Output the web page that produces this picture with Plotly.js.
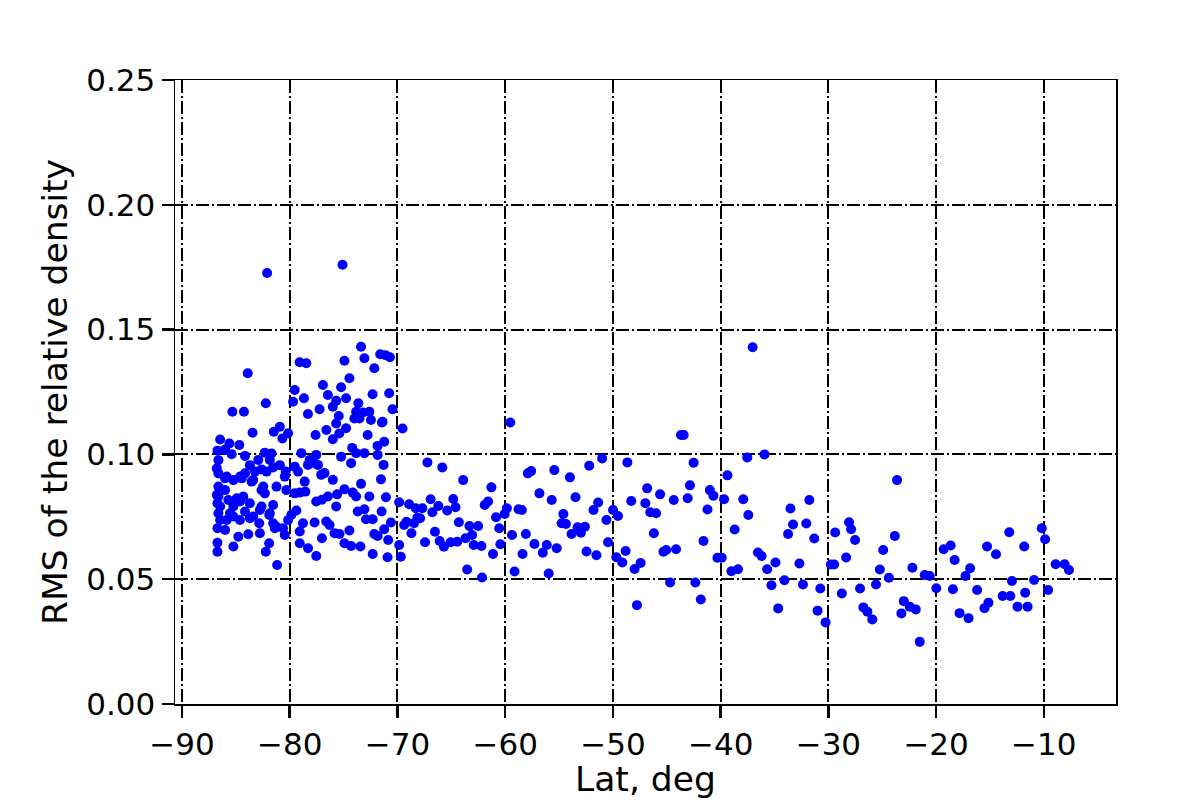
<!DOCTYPE html>
<html>
<head>
<meta charset="utf-8">
<script src="https://cdn.plot.ly/plotly-3.0.1.min.js"></script>
<style>html,body{margin:0;padding:0;background:#fff;}#chart{width:1200px;height:800px;}</style>
</head>
<body>
<div id="chart"></div>
<script>
// Region A: latitudes south of -80 deg
const latA = [-82.1,-83.9,-82.22,-85.32,-84.25,-80.92,-81.48,-80.15,-80.68,-83.45,-86.46,-85.6,-84.68,-86.71,-86.0,-85.39,-82.31,-81.69,-84.15,-82.92,-81.85,-81.54,-80.92,-83.7,-82.62,-86.62,-86.77,
  -86.62,-86.62,-86.77,-86.71,-86.62,-86.46,-86.71,-86.0,-86.71,-85.23,-84.77,-83.85,-82.77,-82.22,-81.91,-81.17,-85.23,-85.23,-84.46,-84.15,-83.54,-82.62,-82.31,-81.23,-80.31,-85.7,-84.62,-83.7,-82.62,-81.54,-81.85,-82.77,-84.15,-85.54,-84.62,-83.7,-82.83,-81.54,-81.38,-80.62,-80.46,-83.23,-82.15,-80.37,-85.85,-84.6,
  -84.92,-86.0,-82.46,-83.39,-86.0,-80.46,-86.46,-80.15,-81.23,-81.9,-83.39,-85.23,-85.85,-86.71,-84.31,-86.62];
const rmsA = [0.1727,0.1325,0.1205,0.1171,0.1171,0.1111,0.1091,0.1085,0.1064,0.1087,0.1060,0.1044,0.1038,0.1015,0.1020,0.1001,0.1007,0.1004,0.0994,0.0978,0.0978,0.0948,0.0957,0.0957,0.0940,0.0977,0.0944,
  0.0924,0.0871,0.0837,0.0804,0.0764,0.0737,0.0704,0.0697,0.0610,0.0631,0.0670,0.0680,0.0684,0.0610,0.0644,0.0557,0.0897,0.0791,0.0904,0.0924,0.0891,0.0857,0.0844,0.0871,0.0857,0.0817,0.0811,0.0804,0.0791,0.0797,0.0764,0.0777,0.0771,0.0764,0.0737,0.0744,0.0724,0.0724,0.0704,0.0704,0.0677,0.0931,0.0931,0.0931,0.0911,0.0911,
  0.0824,0.0857,0.0871,0.0897,0.0904,0.0911,0.0791,0.0737,0.0710,0.0757,0.0751,0.0751,0.0737,0.0646,0.0831,0.0831];

// Region B: -80 to -70 deg
const latB = [-75.1,-73.38,-71.6,-71.1,-70.7,-79.08,-78.46,-74.92,-73.07,-72.15,-74.46,-76.92,-75.23,-79.54,-79.69,-76.46,-74.77,-78.68,-72.31,-70.77,-75.69,-76.0,-77.23,-78.31,-73.63,-70.46,-71.38,-75.45,-75.69,-76.6,-77.6,-76.0,-74.77,-72.77,-71.23,-71.85,-74.2,-73.84,-72.61,-73.53,-72.46,-74.0,-71.44,-73.2,-75.4,
  -78.92,-77.54,-75.23,-73.84,-73.07,-71.84,-78.15,-77.69,-78.31,-79.54,-79.23,-77.38,-76.77,-77.08,-76.0,-74.3,-71.29,-71.53,-78.61,-73.38,-74.92,-74.15,-73.84,-72.61,-76.46,-77.01,-77.54,-78.55,-79.07,-79.54,-75.69,-73.69,-73.07,-71.47,-79.38,-79.84,-78.77,-77.69,-76.61,-76.3,-72.92,-72.3,-70.61,-71.23,-75.84,-75.38,-74.46,-72.15,-71.84,-70.86,-79.07,-77.01,-79.07,-78.3,-74.92,-74.3,-73.44,-72.3,-70.92,-77.54,-71.07,-75.6];
const rmsB = [0.1760,0.1431,0.1401,0.1397,0.1389,0.1369,0.1365,0.1375,0.1385,0.1345,0.1305,0.1278,0.1269,0.1258,0.1211,0.1238,0.1225,0.1225,0.1241,0.1245,0.1215,0.1191,0.1181,0.1162,0.1205,0.1181,0.1131,0.1154,0.1124,0.1098,0.1078,0.1061,0.1105,0.1078,0.1051,0.1034,0.1026,0.1171,0.1171,0.1144,0.1138,0.1144,0.1128,0.1168,0.1084,
  0.1005,0.0998,0.0991,0.1005,0.1005,0.0998,0.0978,0.0965,0.0958,0.0951,0.0931,0.0958,0.0925,0.0918,0.0898,0.0965,0.0958,0.0900,0.0891,0.0882,0.0860,0.0847,0.0831,0.0831,0.0831,0.0818,0.0811,0.0851,0.0847,0.0844,0.0791,0.0771,0.0780,0.0771,0.0775,0.0758,0.0724,0.0727,0.0731,0.0717,0.0740,0.0740,0.0727,0.0700,0.0684,0.0681,0.0695,0.0681,0.0673,0.0657,0.0691,0.0664,0.0644,0.0624,0.0644,0.0633,0.0631,0.0601,0.0588,0.0593,0.0828,0.0840];

// Region C: -70 to -42 deg
const latC = [-69.53,-59.53,-43.68,-43.43,-67.22,-65.84,-63.9,-61.28,-57.9,-57.59,-55.44,-53.99,-52.2,-51.0,-48.66,-42.51,-46.82,-45.62,-42.85,-43.06,-44.35,-48.3,-46.99,-46.54,-45.99,-46.2,-69.84,-68.92,-68.3,-67.69,-66.92,-66.21,-66.76,-68.15,-69.16,-69.38,-68.46,-67.9,-68.7,-69.69,-69.84,-67.44,-66.52,-66.08,-65.69,-65.07,-64.45,-63.68,-63.07,-64.82,-64.61,-65.38,-64.3,-63.32,-62.51,-62.92,-62.21,-63.53,-62.15,-61.9,-61.59,-60.85,-60.55,-61.13,-60.45,-59.84,-60.05,-59.37,-59.13,-58.39,-58.08,-58.76,-58.45,-57.28,-56.82,-56.51,-56.14,-55.96,-55.68,-55.22,-54.6,-54.76,-54.36,-53.84,-53.47,-53.28,-52.97,-52.6,-52.45,-51.8,-51.37,-51.53,-50.6,-50.45,-49.99,-49.53,-49.68,-49.13,-48.82,-47.99,-47.43,-47.77,-45.31,-45.06,-44.14,-44.69,-42.35];
const rmsC = [0.1104,0.1128,0.1078,0.1078,0.0968,0.0948,0.0897,0.0868,0.0924,0.0933,0.0937,0.0908,0.0955,0.0984,0.0968,0.0967,0.0864,0.0840,0.0876,0.0824,0.0817,0.0813,0.0804,0.0768,0.0764,0.0684,0.0808,0.0800,0.0784,0.0784,0.0820,0.0793,0.0768,0.0746,0.0730,0.0717,0.0724,0.0744,0.0684,0.0590,0.0637,0.0648,0.0690,0.0653,0.0630,0.0648,0.0650,0.0664,0.0677,0.0821,0.0788,0.0775,0.0728,0.0713,0.0713,0.0637,0.0633,0.0539,0.0507,0.0797,0.0811,0.0748,0.0704,0.0601,0.0640,0.0784,0.0761,0.0677,0.0531,0.0601,0.0681,0.0780,0.0777,0.0641,0.0844,0.0606,0.0637,0.0523,0.0817,0.0624,0.0761,0.0724,0.0721,0.0681,0.0828,0.0708,0.0686,0.0710,0.0611,0.0777,0.0807,0.0596,0.0737,0.0648,0.0777,0.0753,0.0588,0.0567,0.0613,0.0541,0.0565,0.0396,0.0610,0.0617,0.0620,0.0487,0.0487];

// Region D: -42 to -21 deg
const latD = [-37.03,-37.53,-35.93,-39.37,-41.0,-40.67,-39.68,-37.9,-41.22,-37.43,-38.7,-41.59,-40.3,-39.9,-39.0,-38.39,-36.54,-36.2,-35.68,-34.91,-41.84,-35.28,-34.08,-34.66,-32.69,-33.52,-31.77,-33.28,-32.05,-33.74,-31.31,-32.36,-30.75,-31.0,-30.26,-29.77,-29.46,-29.37,-28.08,-27.89,-27.52,-28.35,-28.75,-27.06,-26.75,-26.38,-25.92,-25.58,-25.22,-24.91,-24.38,-23.83,-23.62,-23.0,-22.45,-21.89,-23.22,-22.2,-21.06];
const rmsD = [0.1429,0.0988,0.1000,0.0916,0.0857,0.0834,0.0820,0.0820,0.0779,0.0757,0.0699,0.0653,0.0586,0.0586,0.0532,0.0540,0.0607,0.0593,0.0540,0.0567,0.0419,0.0476,0.0496,0.0383,0.0563,0.0783,0.0817,0.0719,0.0723,0.0681,0.0663,0.0479,0.0463,0.0374,0.0327,0.0559,0.0559,0.0687,0.0728,0.0700,0.0657,0.0587,0.0443,0.0463,0.0387,0.0370,0.0339,0.0479,0.0539,0.0617,0.0506,0.0673,0.0897,0.0412,0.0390,0.0379,0.0363,0.0546,0.0517];

// Region E: north of -21 deg
const latE = [-20.59,-19.98,-19.3,-18.65,-18.28,-16.84,-17.27,-18.44,-16.19,-17.82,-16.99,-15.51,-15.14,-15.27,-14.44,-13.21,-13.82,-13.11,-12.96,-11.82,-11.73,-12.44,-11.51,-10.9,-10.19,-9.88,-9.6,-8.9,-8.07,-7.67,-21.52];
const rmsE = [0.0513,0.0464,0.0620,0.0635,0.0577,0.0544,0.0513,0.0460,0.0457,0.0364,0.0344,0.0384,0.0406,0.0631,0.0600,0.0688,0.0433,0.0433,0.0493,0.0631,0.0446,0.0390,0.0390,0.0497,0.0704,0.0660,0.0457,0.0560,0.0560,0.0537,0.0249];

const xTicks = [-90, -80, -70, -60, -50, -40, -30, -20, -10];
const yTicks = [0, 0.05, 0.10, 0.15, 0.20, 0.25];
const xTitle = 'Lat, deg';
const yTitle = 'RMS of the relative density';

const lat = [].concat(latA, latB, latC, latD, latE);
const rms = [].concat(rmsA, rmsB, rmsC, rmsD, rmsE);

const trace = {
  type: 'scatter', mode: 'markers', x: lat, y: rms,
  marker: {color: '#0000ff', size: 10, line: {width: 0}},
  hoverinfo: 'x+y'
};

const gridDash = '13px,3px,2px,3px';
const layout = {
  width: 1200, height: 800,
  margin: {l: 175, r: 84, t: 80, b: 96},
  paper_bgcolor: '#ffffff', plot_bgcolor: '#ffffff',
  showlegend: false,
  font: {family: 'DejaVu Sans, sans-serif', color: '#000000'},
  xaxis: {
    range: [-90.65, -3.3], tickmode: 'array', tickvals: xTicks,
    ticks: 'outside', ticklen: 12, tickwidth: 2.5, tickcolor: '#000000',
    showline: true, linecolor: '#000000', linewidth: 1.5, mirror: true,
    showgrid: true, gridcolor: '#000000', gridwidth: 2, griddash: gridDash,
    zeroline: false, automargin: false,
    tickfont: {size: 31, family: 'DejaVu Sans'}
  },
  yaxis: {
    range: [0, 0.25], tickmode: 'array', tickvals: yTicks, tickformat: '.2f',
    ticks: 'outside', ticklen: 12, tickwidth: 2.5, tickcolor: '#000000',
    showline: true, linecolor: '#000000', linewidth: 1.5, mirror: true,
    showgrid: true, gridcolor: '#000000', gridwidth: 2, griddash: gridDash,
    zeroline: false, automargin: false,
    tickfont: {size: 31, family: 'DejaVu Sans'},
    title: {text: yTitle, font: {size: 34.5, family: 'DejaVu Sans'}, standoff: 8}
  },
  annotations: [{
    text: xTitle, xref: 'paper', yref: 'paper', x: 0.5, y: -0.1202,
    xanchor: 'center', yanchor: 'middle', showarrow: false, borderpad: 0,
    font: {size: 34.5, family: 'DejaVu Sans', color: '#000000'}
  }]
};

Plotly.newPlot('chart', [trace], layout, {displayModeBar: false, staticPlot: true});
</script>
</body>
</html>
